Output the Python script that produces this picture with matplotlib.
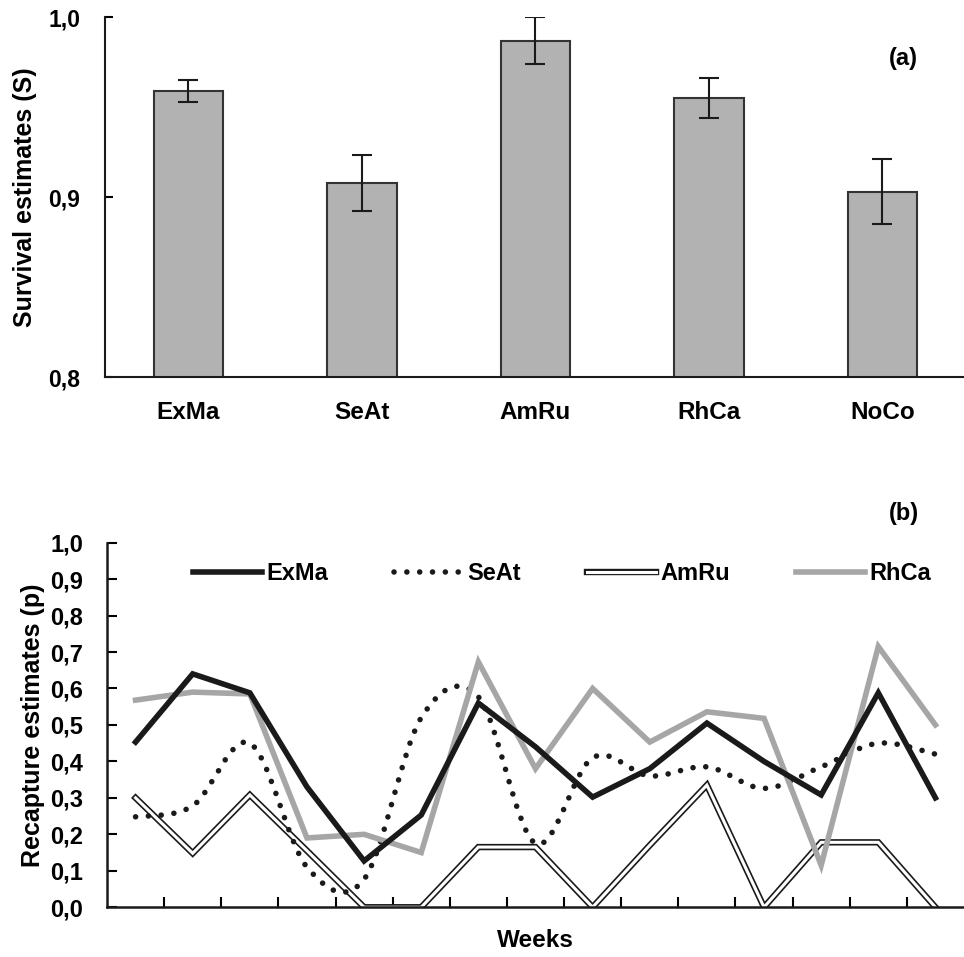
import numpy as np
import matplotlib
matplotlib.use("Agg")
import matplotlib.pyplot as plt
from matplotlib.path import Path
from matplotlib.patches import PathPatch
from matplotlib.lines import Line2D
from matplotlib.legend_handler import HandlerTuple

plt.rcParams['font.family'] = ['Liberation Sans', 'DejaVu Sans']
plt.rcParams['font.weight'] = 'bold'

# (a) survival estimates
species = ['ExMa', 'SeAt', 'AmRu', 'RhCa', 'NoCo']
survival = [0.959, 0.908, 0.987, 0.955, 0.903]
survival_err = [0.006, 0.0155, 0.013, 0.011, 0.018]

# (b) weekly recapture estimates
weeks = np.arange(15)
exma = [0.453, 0.640, 0.588, 0.33, 0.127, 0.253, 0.56, 0.44, 0.302, 0.38, 0.505, 0.40, 0.308, 0.588, 0.30]
seat = [0.248, 0.278, 0.45, 0.11, 0.077, 0.52, 0.577, 0.175, 0.41, 0.36, 0.385, 0.326, 0.385, 0.45, 0.42]
amru = [0.30, 0.148, 0.308, 0.155, 0.0, 0.0, 0.165, 0.165, 0.0, 0.17, 0.335, 0.0, 0.178, 0.178, 0.0]
rhca = [0.568, 0.59, 0.585, 0.19, 0.20, 0.15, 0.673, 0.38, 0.60, 0.453, 0.536, 0.518, 0.115, 0.715, 0.50]

GRAY = '#a6a6a6'
DARK = '#1a1a1a'
DOTS = (0, (0.01, 2.3))


def smooth_path(x, y):
    # Bezier path through the points (like Excel's smoothed line)
    pts = np.column_stack([x, y]).astype(float)
    n = len(pts)
    verts = [pts[0]]
    codes = [Path.MOVETO]
    for i in range(n - 1):
        p0 = pts[i - 1] if i > 0 else pts[i]
        p1 = pts[i]
        p2 = pts[i + 1]
        p3 = pts[i + 2] if i + 2 < n else pts[i + 1]
        c1 = p1 + (p2 - p0) / 6.0
        c2 = p2 - (p3 - p1) / 6.0
        verts += [c1, c2, p2]
        codes += [Path.CURVE4] * 3
    return Path(verts, codes)


fig = plt.figure(figsize=(9.64, 9.57), dpi=100)

# ---- (a) ----
ax1 = fig.add_axes([0.109, 0.606, 0.891, 0.376])
xpos = np.arange(len(species))
ax1.bar(xpos, survival, width=0.40, bottom=0, color='#b2b2b2', edgecolor='#333333', linewidth=1.5, zorder=2)
ax1.errorbar(xpos, survival, yerr=survival_err, fmt='none', ecolor=DARK, elinewidth=1.5,
             capsize=7, capthick=1.5, zorder=3)
ax1.set_ylim(0.8, 1.0)
ax1.set_xlim(-0.48, 4.47)
ax1.set_yticks([0.8, 0.9, 1.0])
ax1.set_yticklabels(['0,8', '0,9', '1,0'])
ax1.set_xticks(xpos)
ax1.set_xticklabels(species)
ax1.tick_params(axis='y', direction='in', length=6, width=1.5, labelsize=16.5, pad=18)
ax1.tick_params(axis='x', length=0, labelsize=17.5, pad=17)
ax1.spines['top'].set_visible(False)
ax1.spines['right'].set_visible(False)
for s in ['left', 'bottom']:
    ax1.spines[s].set_linewidth(1.5)
    ax1.spines[s].set_color(DARK)
ax1.set_ylabel('Survival estimates (S)', fontsize=18, fontweight='bold', labelpad=8)
ax1.text(0.929, 0.886, '(a)', transform=ax1.transAxes, fontsize=17, fontweight='bold',
         ha='center', va='center')

# ---- (b) ----
ax2 = fig.add_axes([0.111, 0.052, 0.889, 0.381])
ax2.plot(weeks, exma, color=DARK, linewidth=4, solid_joinstyle='miter', zorder=4)
seat_patch = PathPatch(smooth_path(weeks, seat), fill=False, edgecolor=DARK, linewidth=4,
                       linestyle=DOTS, capstyle='round', zorder=3)
ax2.add_patch(seat_patch)
ax2.plot(weeks, amru, color=DARK, linewidth=4.6, solid_joinstyle='miter', zorder=2)
ax2.plot(weeks, amru, color='white', linewidth=2.2, solid_joinstyle='miter', zorder=2.1)
ax2.plot(weeks, rhca, color=GRAY, linewidth=4, solid_joinstyle='miter', zorder=3.5)

ax2.set_xlim(-0.5, 14.5)
ax2.set_ylim(0, 1.0)
ax2.set_xticks(np.arange(0.5, 14, 1.0))
ax2.set_xticklabels([])
yt = np.round(np.arange(0, 1.01, 0.1), 1)
ax2.set_yticks(yt)
ax2.set_yticklabels([('%.1f' % v).replace('.', ',') for v in yt])
ax2.tick_params(axis='both', direction='in', length=7, width=1.5)
ax2.tick_params(axis='y', labelsize=17, pad=17)
ax2.spines['top'].set_visible(False)
ax2.spines['right'].set_visible(False)
for s in ['left', 'bottom']:
    ax2.spines[s].set_linewidth(1.8)
    ax2.spines[s].set_color(DARK)
ax2.set_ylabel('Recapture estimates (p)', fontsize=18, fontweight='bold', labelpad=4)
ax2.set_xlabel('Weeks', fontsize=17.5, fontweight='bold', labelpad=12)
ax2.text(0.93, 1.08, '(b)', transform=ax2.transAxes, fontsize=17, fontweight='bold',
         ha='center', va='center')

h_exma = Line2D([], [], color=DARK, linewidth=4)
h_seat = Line2D([], [], color=DARK, linewidth=4, linestyle=DOTS, dash_capstyle='round')
h_amru = (Line2D([], [], color=DARK, linewidth=4.6), Line2D([], [], color='white', linewidth=2.2))
h_rhca = Line2D([], [], color=GRAY, linewidth=4)
ax2.legend([h_exma, h_seat, h_amru, h_rhca], ['ExMa', 'SeAt', 'AmRu', 'RhCa'],
           handler_map={tuple: HandlerTuple(ndivide=1)}, ncol=4, frameon=False,
           loc='center', bbox_to_anchor=(0.531, 0.915), handlelength=2.9,
           handletextpad=0.2, columnspacing=2.8, prop={'weight': 'bold', 'size': 17})

fig.savefig('out.png', dpi=100)
